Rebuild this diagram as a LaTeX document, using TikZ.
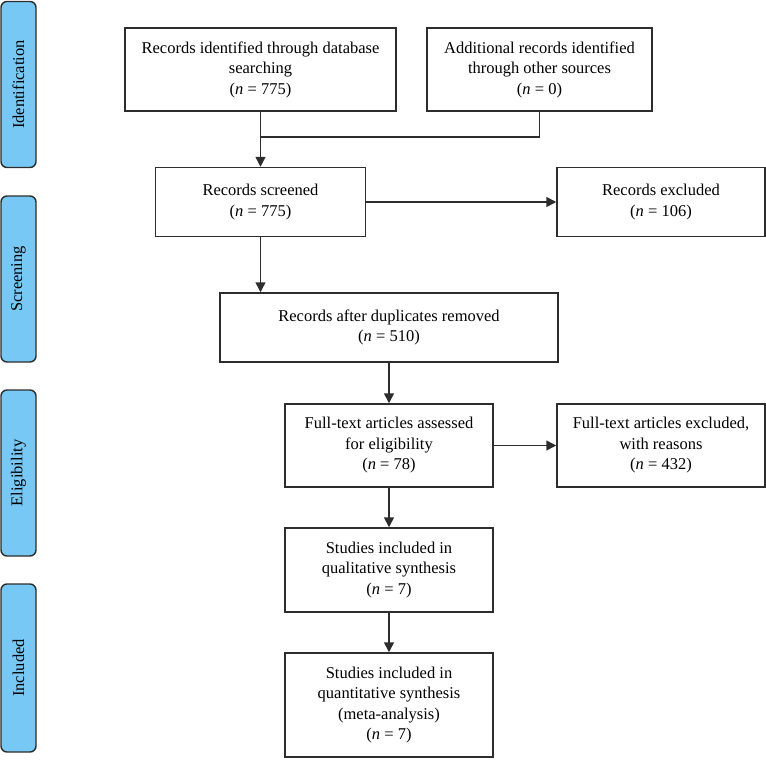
\documentclass[tikz,border=0pt]{standalone}
\usepackage{fontspec}
\setmainfont{Liberation Serif}
\usetikzlibrary{arrows.meta}
\definecolor{stageblue}{RGB}{120,200,245}
\definecolor{linegray}{RGB}{45,45,45}
\newcommand{\nval}[1]{(\textit{n} = #1)}
\begin{document}
\begin{tikzpicture}[x=1pt,y=-1pt,
	box/.style={draw=linegray, line width=1.5pt, align=center, inner sep=0pt, font=\fontsize{16.5}{20.5}\selectfont},
	stage/.style={draw=linegray, fill=stageblue, rounded corners=6pt, line width=1.4pt, inner sep=0pt, minimum height=35pt, rotate=90, font=\fontsize{16.5}{20}\selectfont},
	arr/.style={-{Triangle[length=10pt,width=10pt]}, line width=1.5pt, draw=linegray}]
	\useasboundingbox (0,0) rectangle (766,760);
	\foreach \n/\y/\h/\t in {ident/84.5/166/Identification, screen/279/166/Screening, elig/473/166/Eligibility, incl/668/168/Included} {
		\node [stage, minimum width=\h pt] (\n) at (18.5,\y) {\t};
	}
	\node [box, minimum width=271pt, minimum height=83pt] (recdb) at (260.5,69.5) {Records identified through database\\searching\\\nval{775}};
	\node [box, minimum width=225pt, minimum height=83pt] (recoth) at (539.5,69.5) {Additional records identified\\through other sources\\\nval{0}};
	\node [box, minimum width=210pt, minimum height=69pt] (screened) at (260.5,202) {Records screened\\\nval{775}};
	\node [box, minimum width=208pt, minimum height=69pt] (excl) at (661,202) {Records excluded\\\nval{106}};
	\node [box, minimum width=338pt, minimum height=69pt] (dedup) at (389,327.5) {Records after duplicates removed\\\nval{510}};
	\node [box, minimum width=208pt, minimum height=83pt] (fulltext) at (389,445.5) {Full-text articles assessed\\for eligibility\\\nval{78}};
	\node [box, minimum width=208pt, minimum height=83pt] (ftexcl) at (661,445.5) {Full-text articles excluded,\\with reasons\\\nval{432}};
	\node [box, minimum width=208pt, minimum height=84pt] (qual) at (389,570) {Studies included in\\qualitative synthesis\\\nval{7}};
	\node [box, minimum width=208pt, minimum height=104pt] (quant) at (389,705) {Studies included in\\quantitative synthesis\\(meta-analysis)\\\nval{7}};
	\coordinate (join) at (260.5,137);
	\draw [line width=1.5pt, draw=linegray] (recoth.south) |- (join);
	\draw [arr] (recdb.south) -- (screened.north);
	\draw [arr] (screened.east) -- (excl.west);
	\draw [arr] (screened.south) -- (screened.south |- dedup.north);
	\draw [arr] (dedup.south) -- (fulltext.north);
	\draw [arr] (fulltext.east) -- (ftexcl.west);
	\draw [arr] (fulltext.south) -- (qual.north);
	\draw [arr] (qual.south) -- (quant.north);
\end{tikzpicture}
\end{document}
